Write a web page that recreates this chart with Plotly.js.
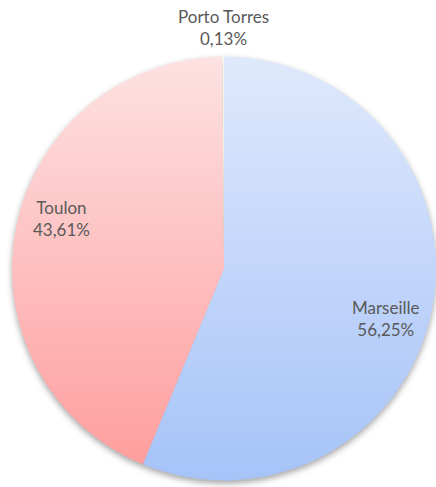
<!DOCTYPE html>
<html><head><meta charset="utf-8">
<script src="https://cdn.plot.ly/plotly-3.0.1.min.js"></script>
<style>
html,body{margin:0;padding:0;background:#fff;}
#chart{width:436px;height:487px;}
.pielayer{filter:drop-shadow(0px 3px 3px rgba(0,0,0,0.35));}
</style></head>
<body><div id="chart"></div>
<script>
const ports = ["Marseille", "Toulon", "Porto Torres"];
const shares = [56.25, 43.61, 0.13];
const topColors = ["#dfe9fc", "#fde2e2", "#f4f7f0"];
const bottomColors = ["#a6c3f8", "#ff9e9e", "#e2ead9"];

const W = 436, H = 487;
const margin = {l: 12, r: 0, t: 55, b: 5};
const pw = W - margin.l - margin.r, ph = H - margin.t - margin.b;
const R = Math.min(pw, ph) / 2;

const total = shares.reduce((a, b) => a + b, 0);
let cum = 0;
const annotations = shares.map((v, i) => {
  const mid = (cum + v / 2) / total * 2 * Math.PI + 6 * Math.PI / 180 * (v / total > 0.05 ? 1 : 0);
  cum += v;
  const frac = v / total > 0.05 ? 0.8 : 1.135;
  const dx = Math.sin(mid) * R * frac, dy = Math.cos(mid) * R * frac;
  return {
    xref: "paper", yref: "paper",
    x: 0.5 + dx / pw, y: 0.5 + dy / ph,
    xanchor: "center", yanchor: "middle",
    showarrow: false,
    text: ports[i] + "<br>" + v.toFixed(2).replace(".", ",") + "%",
    font: {family: "Lato, 'Open Sans', sans-serif", size: 17, color: "#595959"}
  };
});

const data = [{
  type: "pie",
  labels: ports,
  values: shares,
  sort: false,
  direction: "clockwise",
  rotation: 0,
  textinfo: "none",
  textposition: "none",
  hoverinfo: "skip",
  marker: {colors: bottomColors, line: {width: 0}},
  domain: {x: [0, 1], y: [0, 1]}
}];

const layout = {
  width: W, height: H,
  margin: margin,
  showlegend: false,
  paper_bgcolor: "#fff",
  annotations: annotations
};

Plotly.newPlot("chart", data, layout, {staticPlot: true, displayModeBar: false}).then(gd => {
  const svg = gd.querySelector(".main-svg");
  const ns = "http://www.w3.org/2000/svg";
  let defs = svg.querySelector("defs");
  if (!defs) { defs = document.createElementNS(ns, "defs"); svg.insertBefore(defs, svg.firstChild); }
  const paths = gd.querySelectorAll(".slice path.surface");
  paths.forEach((p, i) => {
    const g = document.createElementNS(ns, "linearGradient");
    g.setAttribute("id", "grad" + i);
    g.setAttribute("x1", "0"); g.setAttribute("x2", "0");
    g.setAttribute("y1", "0"); g.setAttribute("y2", "1");
    const s1 = document.createElementNS(ns, "stop");
    s1.setAttribute("offset", "0"); s1.setAttribute("stop-color", topColors[i]);
    const s2 = document.createElementNS(ns, "stop");
    s2.setAttribute("offset", "1"); s2.setAttribute("stop-color", bottomColors[i]);
    g.appendChild(s1); g.appendChild(s2);
    defs.appendChild(g);
    p.style.fill = "url(#grad" + i + ")";
  });
});
</script>
</body></html>
